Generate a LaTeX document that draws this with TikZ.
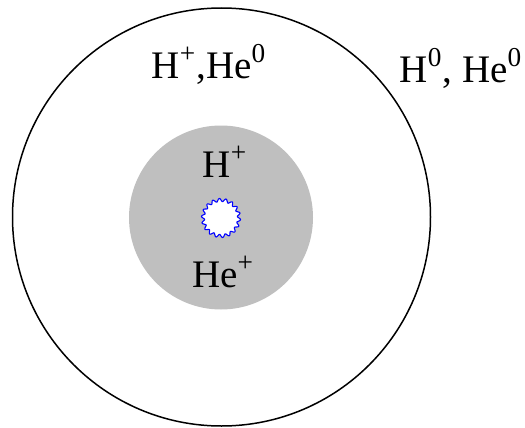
\documentclass[tikz,border=0pt]{standalone}
\usepackage{fontspec}
\setmainfont{Liberation Serif}
\usetikzlibrary{positioning}

\begin{document}
\begin{tikzpicture}[
          x=0.5pt, y=-0.5pt,
          zone/.style={circle, inner sep=0pt},
          ion/.style={font=\fontsize{19.5}{22}\selectfont, inner sep=0pt,
                      anchor=base},
        ]
          \useasboundingbox (0,0) rectangle (525,428);

          \node[zone, draw=black, line width=0.75pt,
                minimum size=209pt] (outer) at (221.5,217) {};
          \node[zone, fill=black!25, minimum size=92pt] (hot) at (221,217.5) {};

          % ionising source in the middle
          \draw[blue, line width=0.55pt, fill=white, shift={(221,218)}]
            plot[domain=0:360, samples=181, smooth]
            (\x:{18+1.6*sin(18*\x)}) -- cycle;
          \coordinate (core) at (221,218);

          \node[ion] (hp)   at (225,177) {H\textsuperscript{+}};
          \node[ion] (hep)  at (223,287) {He\textsuperscript{+}};
          \node[ion] (mid)  at (209,78)  {H\textsuperscript{+},He\textsuperscript{0}};
          \node[ion] (neut) at (461,82)  {H\textsuperscript{0}, He\textsuperscript{0}};
        \end{tikzpicture}
\end{document}
